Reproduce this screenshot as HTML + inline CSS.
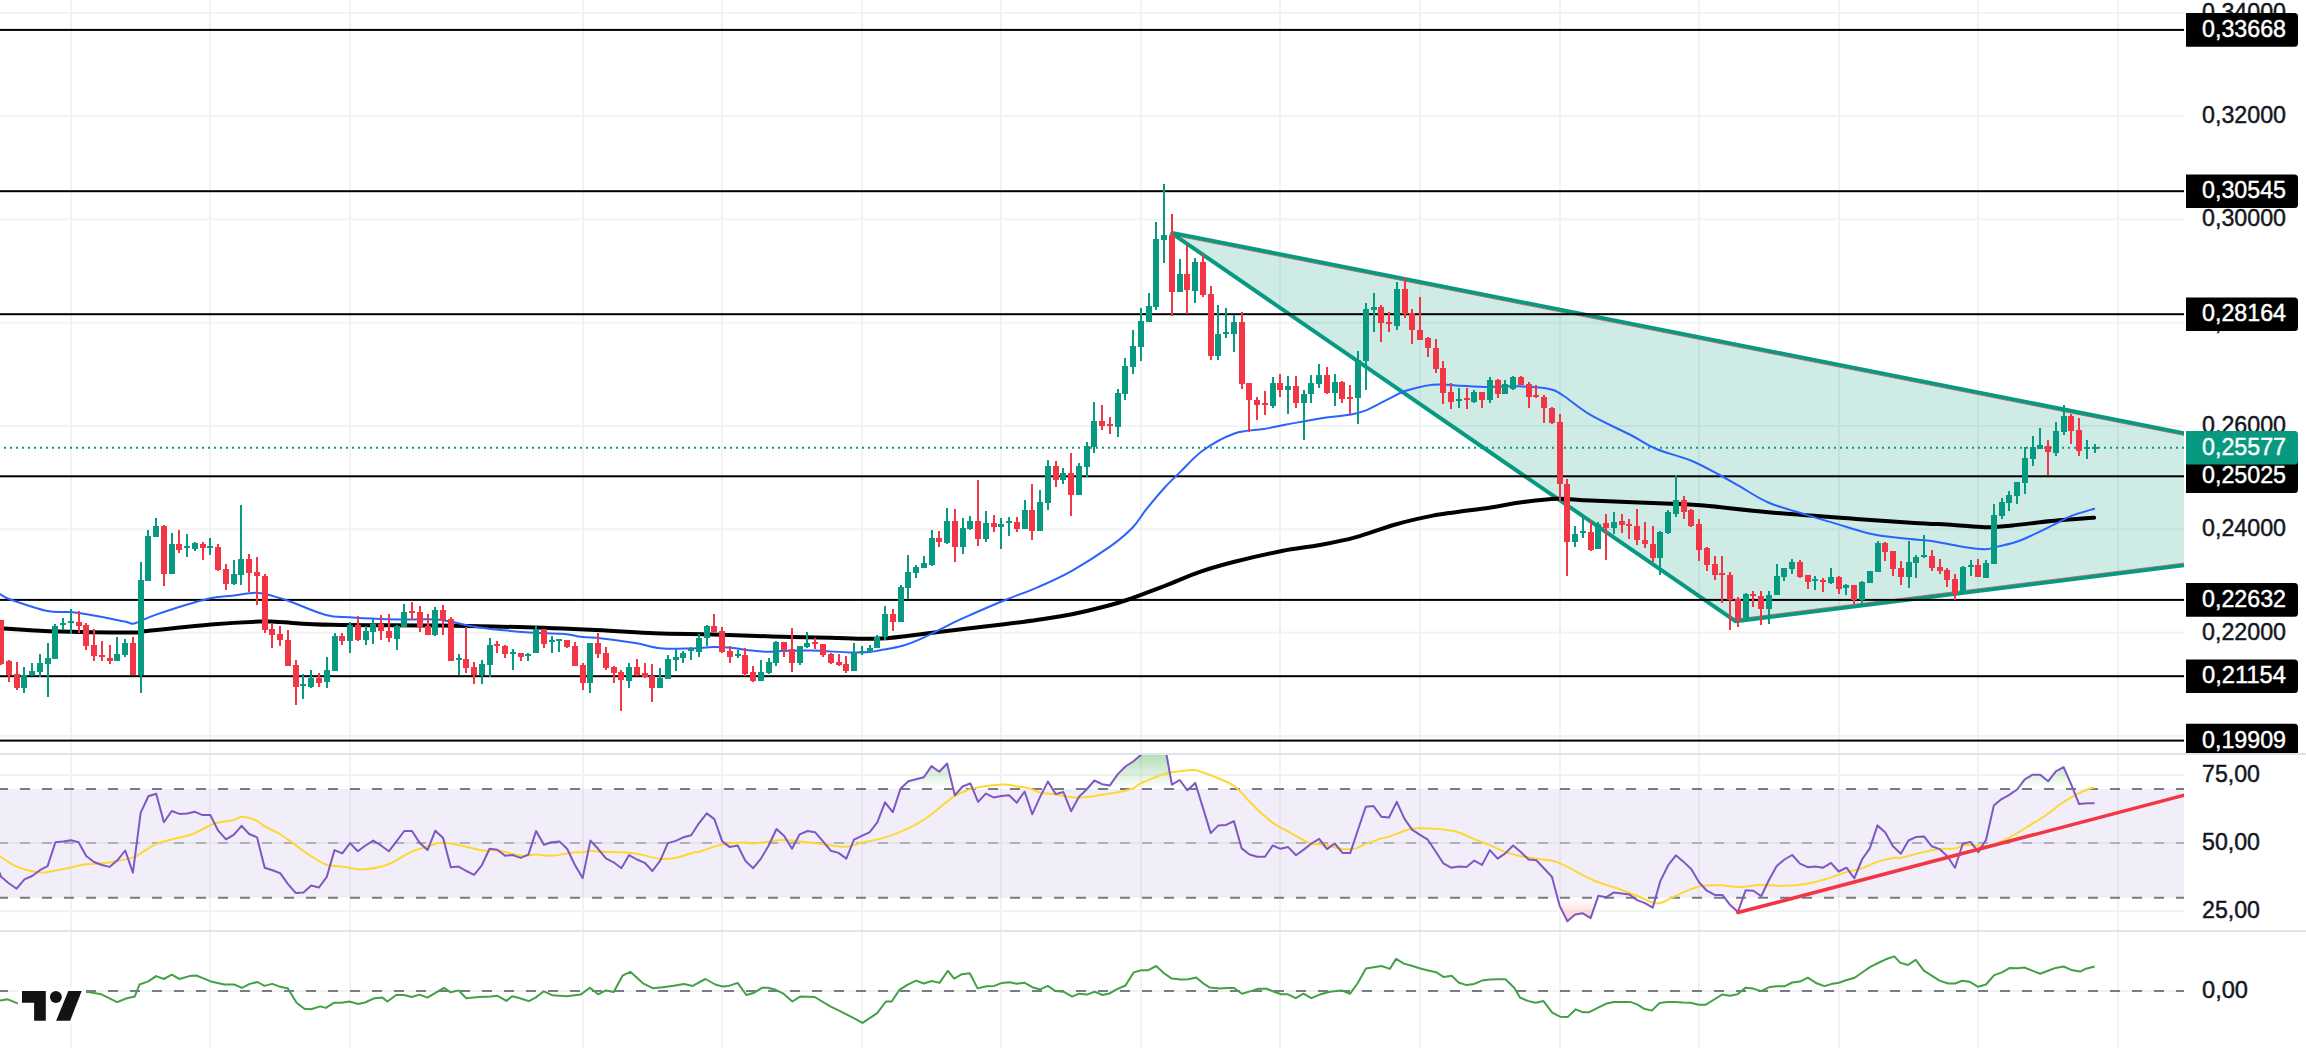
<!DOCTYPE html><html><head><meta charset="utf-8"><style>html,body{margin:0;padding:0;background:#fff;width:2306px;height:1063px;overflow:hidden}svg{display:block}text{font-family:"Liberation Sans",sans-serif}.ax{will-change:transform}</style></head><body>
<svg width="2306" height="1063" viewBox="0 0 2306 1063">
<defs>
<clipPath id="cp1"><rect x="0" y="0" width="2184" height="753"/></clipPath>
<clipPath id="cpax"><rect x="2184" y="0" width="122" height="753"/></clipPath>
<clipPath id="cp2"><rect x="0" y="755" width="2184" height="175"/></clipPath>
<clipPath id="cp3"><rect x="0" y="932" width="2184" height="116"/></clipPath>
<clipPath id="cpob"><rect x="0" y="755" width="2184" height="33.9"/></clipPath>
<clipPath id="cpos"><rect x="0" y="897.7" width="2184" height="32.3"/></clipPath>
<linearGradient id="gob" gradientUnits="userSpaceOnUse" x1="0" y1="707" x2="0" y2="788.9"><stop offset="0" stop-color="#4caf50" stop-opacity="1"/><stop offset="1" stop-color="#4caf50" stop-opacity="0"/></linearGradient>
<linearGradient id="gos" gradientUnits="userSpaceOnUse" x1="0" y1="897.7" x2="0" y2="979.6"><stop offset="0" stop-color="#ff5252" stop-opacity="0"/><stop offset="1" stop-color="#ff5252" stop-opacity="1"/></linearGradient>
</defs>
<rect x="70" y="0" width="2" height="753" fill="#f1f3f2"/>
<rect x="70" y="755" width="2" height="175" fill="#f1f3f2"/>
<rect x="70" y="932" width="2" height="116" fill="#f1f3f2"/>
<rect x="209" y="0" width="2" height="753" fill="#f1f3f2"/>
<rect x="209" y="755" width="2" height="175" fill="#f1f3f2"/>
<rect x="209" y="932" width="2" height="116" fill="#f1f3f2"/>
<rect x="349" y="0" width="2" height="753" fill="#f1f3f2"/>
<rect x="349" y="755" width="2" height="175" fill="#f1f3f2"/>
<rect x="349" y="932" width="2" height="116" fill="#f1f3f2"/>
<rect x="582" y="0" width="2" height="753" fill="#f1f3f2"/>
<rect x="582" y="755" width="2" height="175" fill="#f1f3f2"/>
<rect x="582" y="932" width="2" height="116" fill="#f1f3f2"/>
<rect x="721" y="0" width="2" height="753" fill="#f1f3f2"/>
<rect x="721" y="755" width="2" height="175" fill="#f1f3f2"/>
<rect x="721" y="932" width="2" height="116" fill="#f1f3f2"/>
<rect x="861" y="0" width="2" height="753" fill="#f1f3f2"/>
<rect x="861" y="755" width="2" height="175" fill="#f1f3f2"/>
<rect x="861" y="932" width="2" height="116" fill="#f1f3f2"/>
<rect x="1000" y="0" width="2" height="753" fill="#f1f3f2"/>
<rect x="1000" y="755" width="2" height="175" fill="#f1f3f2"/>
<rect x="1000" y="932" width="2" height="116" fill="#f1f3f2"/>
<rect x="1140" y="0" width="2" height="753" fill="#f1f3f2"/>
<rect x="1140" y="755" width="2" height="175" fill="#f1f3f2"/>
<rect x="1140" y="932" width="2" height="116" fill="#f1f3f2"/>
<rect x="1279" y="0" width="2" height="753" fill="#f1f3f2"/>
<rect x="1279" y="755" width="2" height="175" fill="#f1f3f2"/>
<rect x="1279" y="932" width="2" height="116" fill="#f1f3f2"/>
<rect x="1419" y="0" width="2" height="753" fill="#f1f3f2"/>
<rect x="1419" y="755" width="2" height="175" fill="#f1f3f2"/>
<rect x="1419" y="932" width="2" height="116" fill="#f1f3f2"/>
<rect x="1559" y="0" width="2" height="753" fill="#f1f3f2"/>
<rect x="1559" y="755" width="2" height="175" fill="#f1f3f2"/>
<rect x="1559" y="932" width="2" height="116" fill="#f1f3f2"/>
<rect x="1698" y="0" width="2" height="753" fill="#f1f3f2"/>
<rect x="1698" y="755" width="2" height="175" fill="#f1f3f2"/>
<rect x="1698" y="932" width="2" height="116" fill="#f1f3f2"/>
<rect x="1838" y="0" width="2" height="753" fill="#f1f3f2"/>
<rect x="1838" y="755" width="2" height="175" fill="#f1f3f2"/>
<rect x="1838" y="932" width="2" height="116" fill="#f1f3f2"/>
<rect x="1977" y="0" width="2" height="753" fill="#f1f3f2"/>
<rect x="1977" y="755" width="2" height="175" fill="#f1f3f2"/>
<rect x="1977" y="932" width="2" height="116" fill="#f1f3f2"/>
<rect x="2117" y="0" width="2" height="753" fill="#f1f3f2"/>
<rect x="2117" y="755" width="2" height="175" fill="#f1f3f2"/>
<rect x="2117" y="932" width="2" height="116" fill="#f1f3f2"/>
<rect x="0" y="11.8" width="2184" height="2" fill="#f1f3f2"/>
<rect x="0" y="115.1" width="2184" height="2" fill="#f1f3f2"/>
<rect x="0" y="218.4" width="2184" height="2" fill="#f1f3f2"/>
<rect x="0" y="321.7" width="2184" height="2" fill="#f1f3f2"/>
<rect x="0" y="425.0" width="2184" height="2" fill="#f1f3f2"/>
<rect x="0" y="528.3" width="2184" height="2" fill="#f1f3f2"/>
<rect x="0" y="631.6" width="2184" height="2" fill="#f1f3f2"/>
<rect x="0" y="734.9" width="2184" height="2" fill="#f1f3f2"/>
<rect x="0" y="774.0" width="2184" height="2" fill="#f1f3f2"/>
<rect x="0" y="841.9" width="2184" height="2" fill="#f1f3f2"/>
<rect x="0" y="910.2" width="2184" height="2" fill="#f1f3f2"/>
<rect x="0" y="989.9" width="2184" height="2" fill="#f1f3f2"/>
<rect x="0" y="753" width="2306" height="2" fill="#e0e3eb"/>
<rect x="0" y="930" width="2306" height="2" fill="#e0e3eb"/>
<g clip-path="url(#cp1)">
<polygon points="1170.8,232.6 2224.0,441.1 2224.0,560.3 1735.8,621.3" fill="#089981" fill-opacity="0.2"/>
<line x1="1178.8" y1="236.4" x2="2224.0" y2="443.3" stroke="#f23645" stroke-width="1" stroke-opacity="0.75"/>
<line x1="1739.8" y1="618.6" x2="2224.0" y2="558.1" stroke="#f23645" stroke-width="1" stroke-opacity="0.75"/>
<path d="M2224.0 441.1L1170.8 232.6L1735.8 621.3L2224.0 560.3" stroke="#089981" stroke-width="4.0" stroke-linejoin="bevel" fill="none"/>
<rect x="0" y="28.9" width="2184" height="2" fill="#000"/>
<rect x="0" y="190.2" width="2184" height="2" fill="#000"/>
<rect x="0" y="313.2" width="2184" height="2" fill="#000"/>
<rect x="0" y="475.3" width="2184" height="2" fill="#000"/>
<rect x="0" y="598.9" width="2184" height="2" fill="#000"/>
<rect x="0" y="675.2" width="2184" height="2" fill="#000"/>
<rect x="0" y="739.6" width="2184" height="2" fill="#000"/>
<line x1="0" y1="447.8" x2="2184" y2="447.8" stroke="#089981" stroke-width="2" stroke-dasharray="2 4" stroke-dashoffset="2"/>
<path d="M0.0 628.3C8.1 628.8 26.7 630.5 48.8 631.2C70.9 631.9 116.8 632.6 132.7 632.6C148.6 632.6 131.4 632.6 144.4 631.2C157.4 629.8 191.6 626.0 210.8 624.4C230.0 622.8 248.2 621.9 259.6 621.5C271.0 621.1 267.1 621.6 279.1 622.1C291.1 622.6 305.0 624.2 331.8 624.8C358.6 625.4 408.9 625.2 440.0 625.6C471.1 626.0 492.1 626.4 518.1 627.1C544.1 627.8 573.3 629.0 596.1 630.0C618.9 631.0 635.2 632.5 654.7 633.3C674.2 634.0 693.7 634.0 713.2 634.5C732.7 635.0 752.3 635.9 771.8 636.4C791.3 636.9 812.3 637.4 830.3 637.8C848.3 638.2 862.3 639.5 880.0 638.6C897.7 637.7 915.7 634.6 936.4 632.2C957.1 629.8 987.2 626.4 1004.2 624.3C1021.2 622.2 1026.8 621.5 1038.1 619.8C1049.4 618.1 1060.6 616.5 1071.9 614.2C1083.2 612.0 1096.4 608.8 1105.8 606.3C1115.2 603.8 1118.6 602.9 1128.4 599.5C1138.2 596.1 1152.5 590.6 1164.5 586.0C1176.5 581.4 1188.9 575.7 1200.6 571.7C1212.3 567.7 1221.0 565.2 1234.5 561.8C1248.0 558.3 1267.7 553.8 1281.9 551.0C1296.2 548.2 1307.6 547.3 1320.0 545.0C1332.4 542.7 1343.7 540.5 1356.1 537.1C1368.5 533.7 1381.7 528.3 1394.5 524.7C1407.3 521.1 1417.1 518.4 1432.9 515.6C1448.7 512.8 1474.2 509.9 1489.3 507.7C1504.3 505.4 1511.9 503.6 1523.2 502.1C1534.5 500.6 1545.8 499.0 1557.1 498.7C1568.4 498.4 1574.0 499.8 1590.9 500.5C1607.8 501.2 1639.9 502.4 1658.7 503.2C1677.5 504.0 1685.5 504.0 1703.8 505.5C1722.1 507.0 1742.9 510.0 1768.3 512.2C1793.7 514.5 1831.7 517.2 1856.1 519.0C1880.5 520.8 1898.4 521.9 1914.7 522.9C1931.0 523.9 1942.0 524.2 1953.7 524.9C1965.4 525.6 1975.1 527.1 1984.9 527.2C1994.7 527.3 2001.2 526.5 2012.3 525.5C2023.4 524.5 2037.7 522.3 2051.3 521.0C2065.0 519.7 2087.0 518.2 2094.2 517.7" fill="none" stroke="#000" stroke-width="4" stroke-linejoin="round" stroke-linecap="round"/>
<path d="M0.0 594.2C1.9 595.2 3.7 597.2 11.7 600.0C19.7 602.8 38.0 609.1 47.8 611.1C57.6 613.1 62.6 611.4 70.3 612.1C78.0 612.9 84.6 614.0 93.7 615.6C102.8 617.2 118.1 620.2 124.9 621.5C131.7 622.8 129.1 624.5 134.3 623.4C139.5 622.2 144.0 618.7 156.1 614.6C168.2 610.5 194.2 602.1 206.9 599.0C219.6 595.9 224.1 596.7 232.2 595.7C240.3 594.7 248.9 592.7 255.7 592.8C262.5 592.9 267.7 594.7 273.2 596.1C278.7 597.5 280.0 597.9 288.8 601.0C297.6 604.1 315.8 612.3 325.9 615.0C336.0 617.7 340.2 616.6 349.3 617.2C358.4 617.9 370.5 618.5 380.6 618.9C390.7 619.3 399.9 619.4 409.8 619.5C419.7 619.6 428.5 618.4 440.0 619.7C451.5 621.0 464.0 625.4 479.0 627.5C494.0 629.6 515.5 631.4 529.8 632.5C544.1 633.6 556.4 633.2 564.9 633.9C573.4 634.6 575.3 636.1 580.5 636.8C585.7 637.4 587.0 636.8 596.1 637.8C605.2 638.8 624.5 641.4 635.2 643.1C645.9 644.8 651.4 647.3 660.5 648.2C669.6 649.1 681.0 648.7 689.8 648.5C698.6 648.3 706.7 647.1 713.2 647.0C719.7 646.9 720.7 646.9 728.8 647.6C736.9 648.4 753.2 650.9 762.0 651.5C770.8 652.1 773.4 651.3 781.5 651.1C789.6 650.9 799.4 650.3 810.8 650.5C822.2 650.7 840.0 652.2 849.8 652.5C859.5 652.8 864.3 652.5 869.3 652.1C874.3 651.7 874.5 651.3 880.0 650.3C885.5 649.2 895.1 648.0 902.6 645.8C910.1 643.5 916.6 640.8 925.2 636.8C933.9 632.8 946.2 626.1 954.5 622.1C962.8 618.1 966.1 616.8 974.8 613.0C983.4 609.2 995.9 603.8 1006.4 599.5C1016.9 595.2 1027.2 591.9 1038.1 587.1C1049.0 582.3 1059.9 577.6 1071.9 570.8C1083.9 564.0 1100.1 553.7 1110.3 546.4C1120.5 539.1 1126.9 533.4 1132.9 527.2C1138.9 521.0 1141.1 515.8 1146.4 509.2C1151.7 502.6 1158.8 493.9 1164.5 487.7C1170.2 481.5 1173.9 478.1 1180.3 471.9C1186.7 465.7 1193.9 456.9 1202.9 450.5C1211.9 444.1 1224.3 437.1 1234.5 433.5C1244.7 429.9 1255.1 430.5 1263.8 429.0C1272.5 427.5 1277.0 426.2 1286.4 424.5C1295.8 422.8 1309.5 420.1 1320.0 418.5C1330.5 416.9 1341.9 416.0 1349.4 414.7C1356.9 413.4 1358.8 413.2 1365.2 410.6C1371.6 408.1 1380.9 402.7 1387.7 399.4C1394.5 396.1 1398.3 393.2 1405.8 390.8C1413.3 388.4 1424.6 385.6 1432.9 384.7C1441.2 383.8 1446.1 385.0 1455.5 385.4C1464.9 385.8 1478.8 386.8 1489.3 386.9C1499.8 387.0 1508.5 385.9 1518.7 386.3C1528.9 386.7 1542.8 387.6 1550.3 389.2C1557.8 390.8 1557.0 391.7 1563.8 396.0C1570.6 400.3 1579.6 408.6 1590.9 415.2C1602.2 421.8 1620.7 429.9 1631.6 435.5C1642.5 441.1 1646.6 444.9 1656.4 449.0C1666.2 453.1 1679.8 456.0 1690.3 460.3C1700.8 464.6 1711.5 470.7 1719.6 475.0C1727.7 479.3 1730.9 481.3 1739.0 485.9C1747.1 490.5 1756.9 497.6 1768.3 502.5C1779.7 507.4 1795.9 511.5 1807.3 515.1C1818.7 518.7 1825.9 520.7 1836.6 523.9C1847.3 527.1 1860.3 531.6 1871.7 534.1C1883.1 536.6 1894.5 537.4 1904.9 538.6C1915.3 539.8 1924.4 540.1 1934.2 541.5C1944.0 542.9 1955.0 545.7 1963.5 547.0C1972.0 548.3 1979.1 549.4 1984.9 549.3C1990.8 549.2 1992.7 547.9 1998.6 546.4C2004.5 544.9 2011.3 543.9 2020.1 540.5C2028.9 537.1 2042.9 530.0 2051.3 525.9C2059.8 521.8 2063.7 519.0 2070.8 516.1C2078.0 513.2 2090.3 509.9 2094.2 508.7" fill="none" stroke="#2962ff" stroke-width="2" stroke-linejoin="round" stroke-linecap="round"/>
<path d="M23 667h2v26h-2zM31 663h2v13h-2zM39 654h2v23h-2zM47 643h2v54h-2zM54 624h2v35h-2zM62 618h2v12h-2zM70 609h2v25h-2zM116 637h2v24h-2zM124 639h2v18h-2zM140 562h2v131h-2zM147 530h2v51h-2zM155 518h2v19h-2zM171 533h2v41h-2zM186 534h2v23h-2zM194 542h2v9h-2zM209 538h2v17h-2zM233 560h2v25h-2zM240 505h2v80h-2zM302 674h2v25h-2zM310 670h2v18h-2zM326 657h2v31h-2zM334 633h2v38h-2zM349 622h2v31h-2zM365 626h2v19h-2zM372 619h2v25h-2zM396 625h2v25h-2zM403 604h2v23h-2zM434 607h2v29h-2zM458 654h2v21h-2zM481 660h2v24h-2zM489 638h2v39h-2zM512 649h2v21h-2zM527 653h2v8h-2zM535 626h2v27h-2zM551 636h2v17h-2zM558 639h2v13h-2zM589 643h2v50h-2zM628 663h2v25h-2zM659 668h2v20h-2zM667 655h2v24h-2zM675 649h2v22h-2zM682 651h2v12h-2zM690 647h2v13h-2zM698 634h2v23h-2zM706 625h2v21h-2zM737 650h2v8h-2zM760 660h2v21h-2zM768 658h2v16h-2zM775 641h2v25h-2zM799 646h2v19h-2zM806 632h2v16h-2zM853 643h2v28h-2zM861 646h2v9h-2zM869 645h2v7h-2zM876 635h2v13h-2zM884 606h2v34h-2zM900 585h2v37h-2zM907 555h2v44h-2zM915 565h2v13h-2zM923 556h2v12h-2zM931 530h2v36h-2zM946 508h2v36h-2zM962 518h2v36h-2zM969 516h2v14h-2zM985 511h2v31h-2zM1000 518h2v31h-2zM1008 517h2v19h-2zM1024 500h2v29h-2zM1039 490h2v41h-2zM1047 460h2v50h-2zM1062 468h2v16h-2zM1078 463h2v32h-2zM1086 442h2v35h-2zM1093 402h2v51h-2zM1117 389h2v48h-2zM1124 358h2v42h-2zM1132 330h2v44h-2zM1140 308h2v53h-2zM1148 293h2v29h-2zM1155 222h2v88h-2zM1163 184h2v79h-2zM1179 259h2v33h-2zM1194 258h2v45h-2zM1217 305h2v55h-2zM1225 308h2v30h-2zM1233 315h2v37h-2zM1272 377h2v31h-2zM1287 376h2v38h-2zM1303 390h2v50h-2zM1310 375h2v28h-2zM1318 364h2v24h-2zM1334 374h2v32h-2zM1357 351h2v73h-2zM1365 303h2v87h-2zM1373 293h2v39h-2zM1396 282h2v48h-2zM1458 388h2v20h-2zM1473 390h2v13h-2zM1489 377h2v26h-2zM1504 380h2v14h-2zM1512 376h2v14h-2zM1574 526h2v21h-2zM1582 517h2v21h-2zM1597 522h2v27h-2zM1613 512h2v22h-2zM1659 531h2v44h-2zM1667 510h2v24h-2zM1675 475h2v42h-2zM1745 593h2v25h-2zM1768 591h2v33h-2zM1776 564h2v31h-2zM1783 568h2v13h-2zM1791 559h2v15h-2zM1814 576h2v14h-2zM1830 568h2v16h-2zM1845 584h2v11h-2zM1861 581h2v23h-2zM1869 571h2v12h-2zM1877 541h2v31h-2zM1908 541h2v47h-2zM1915 555h2v23h-2zM1923 535h2v23h-2zM1962 566h2v27h-2zM1970 560h2v16h-2zM1985 560h2v18h-2zM1993 504h2v60h-2zM2001 498h2v21h-2zM2008 491h2v20h-2zM2016 482h2v22h-2zM2024 447h2v47h-2zM2032 436h2v30h-2zM2039 428h2v21h-2zM2055 422h2v34h-2zM2063 405h2v30h-2zM2086 440h2v19h-2zM2094 444h2v9h-2z M21 675h6v13h-6zM29 671h6v4h-6zM37 663h6v9h-6zM45 658h6v6h-6zM52 626h6v33h-6zM60 623h6v2h-6zM68 621h6v2h-6zM114 654h6v7h-6zM122 643h6v12h-6zM138 580h6v95h-6zM145 536h6v45h-6zM153 526h6v11h-6zM169 544h6v30h-6zM184 546h6v2h-6zM192 543h6v6h-6zM207 546h6v2h-6zM231 574h6v10h-6zM238 559h6v16h-6zM300 684h6v2h-6zM308 678h6v9h-6zM324 670h6v12h-6zM332 636h6v35h-6zM347 625h6v16h-6zM363 631h6v9h-6zM370 624h6v8h-6zM394 626h6v13h-6zM401 612h6v15h-6zM432 610h6v25h-6zM456 658h6v2h-6zM479 664h6v11h-6zM487 645h6v20h-6zM510 652h6v2h-6zM525 654h6v2h-6zM533 629h6v24h-6zM549 640h6v2h-6zM556 639h6v2h-6zM587 643h6v40h-6zM626 667h6v14h-6zM657 678h6v10h-6zM665 659h6v20h-6zM673 657h6v3h-6zM680 653h6v5h-6zM688 649h6v2h-6zM696 638h6v14h-6zM704 626h6v12h-6zM735 654h6v2h-6zM758 672h6v9h-6zM766 662h6v11h-6zM773 642h6v21h-6zM797 646h6v17h-6zM804 643h6v4h-6zM851 653h6v18h-6zM859 651h6v2h-6zM867 648h6v4h-6zM874 637h6v11h-6zM882 614h6v23h-6zM898 587h6v35h-6zM905 572h6v16h-6zM913 567h6v6h-6zM921 563h6v5h-6zM929 538h6v27h-6zM944 521h6v22h-6zM960 528h6v19h-6zM967 521h6v8h-6zM983 523h6v16h-6zM998 524h6v3h-6zM1006 521h6v2h-6zM1022 510h6v19h-6zM1037 502h6v29h-6zM1045 466h6v37h-6zM1060 473h6v7h-6zM1076 466h6v29h-6zM1084 446h6v21h-6zM1091 421h6v26h-6zM1115 393h6v34h-6zM1122 366h6v28h-6zM1130 346h6v21h-6zM1138 321h6v26h-6zM1146 306h6v16h-6zM1153 239h6v68h-6zM1161 235h6v5h-6zM1177 274h6v18h-6zM1192 262h6v29h-6zM1215 334h6v22h-6zM1223 332h6v2h-6zM1231 322h6v12h-6zM1270 383h6v23h-6zM1285 386h6v4h-6zM1301 394h6v9h-6zM1308 383h6v11h-6zM1316 375h6v9h-6zM1332 382h6v11h-6zM1355 360h6v38h-6zM1363 309h6v52h-6zM1371 307h6v3h-6zM1394 289h6v37h-6zM1456 399h6v2h-6zM1471 392h6v10h-6zM1487 380h6v20h-6zM1502 384h6v10h-6zM1510 377h6v12h-6zM1572 534h6v8h-6zM1580 531h6v2h-6zM1595 524h6v25h-6zM1611 522h6v6h-6zM1657 532h6v26h-6zM1665 512h6v21h-6zM1673 500h6v14h-6zM1743 594h6v24h-6zM1766 595h6v14h-6zM1774 576h6v19h-6zM1781 568h6v9h-6zM1789 562h6v7h-6zM1812 579h6v2h-6zM1828 577h6v6h-6zM1843 585h6v3h-6zM1859 582h6v18h-6zM1867 571h6v12h-6zM1875 543h6v29h-6zM1906 562h6v15h-6zM1913 557h6v6h-6zM1921 555h6v2h-6zM1960 567h6v26h-6zM1968 565h6v2h-6zM1983 563h6v15h-6zM1991 515h6v49h-6zM1999 502h6v14h-6zM2006 495h6v8h-6zM2014 482h6v14h-6zM2022 458h6v25h-6zM2030 447h6v12h-6zM2037 445h6v4h-6zM2053 431h6v22h-6zM2061 416h6v16h-6zM2084 447h6v2h-6zM2092 447h6v2h-6z" fill="#089981"/>
<path d="M0 620h2v45h-2zM8 660h2v22h-2zM16 662h2v28h-2zM78 611h2v22h-2zM85 623h2v27h-2zM93 629h2v32h-2zM101 641h2v20h-2zM109 645h2v19h-2zM132 637h2v38h-2zM163 525h2v61h-2zM178 530h2v23h-2zM202 542h2v18h-2zM217 544h2v27h-2zM225 564h2v26h-2zM248 554h2v38h-2zM256 557h2v48h-2zM264 574h2v59h-2zM271 624h2v24h-2zM279 626h2v20h-2zM287 630h2v36h-2zM295 660h2v45h-2zM318 673h2v14h-2zM341 633h2v12h-2zM357 616h2v25h-2zM380 615h2v25h-2zM388 614h2v28h-2zM411 602h2v18h-2zM419 606h2v26h-2zM427 614h2v21h-2zM442 605h2v30h-2zM450 617h2v44h-2zM465 627h2v46h-2zM473 662h2v22h-2zM496 641h2v12h-2zM504 645h2v13h-2zM520 653h2v8h-2zM543 629h2v19h-2zM566 640h2v8h-2zM574 642h2v24h-2zM582 663h2v27h-2zM597 633h2v25h-2zM605 647h2v23h-2zM613 666h2v17h-2zM620 670h2v41h-2zM636 659h2v17h-2zM644 663h2v15h-2zM651 664h2v38h-2zM713 614h2v18h-2zM721 627h2v26h-2zM729 646h2v17h-2zM744 648h2v28h-2zM752 666h2v16h-2zM783 642h2v15h-2zM791 628h2v44h-2zM814 638h2v11h-2zM822 644h2v13h-2zM830 653h2v11h-2zM838 654h2v12h-2zM845 656h2v17h-2zM892 609h2v22h-2zM938 531h2v16h-2zM954 509h2v53h-2zM977 480h2v66h-2zM993 515h2v17h-2zM1016 517h2v15h-2zM1031 484h2v56h-2zM1055 461h2v26h-2zM1070 453h2v63h-2zM1101 405h2v25h-2zM1109 417h2v17h-2zM1171 214h2v102h-2zM1186 245h2v69h-2zM1202 254h2v43h-2zM1210 286h2v74h-2zM1241 312h2v77h-2zM1248 383h2v49h-2zM1256 397h2v23h-2zM1264 391h2v24h-2zM1279 374h2v23h-2zM1295 376h2v32h-2zM1326 367h2v27h-2zM1341 381h2v22h-2zM1349 385h2v29h-2zM1380 305h2v37h-2zM1388 312h2v20h-2zM1404 277h2v41h-2zM1411 309h2v35h-2zM1419 297h2v43h-2zM1427 337h2v20h-2zM1435 339h2v34h-2zM1442 361h2v43h-2zM1450 383h2v26h-2zM1466 388h2v21h-2zM1481 392h2v16h-2zM1497 379h2v19h-2zM1520 376h2v9h-2zM1528 382h2v26h-2zM1535 385h2v13h-2zM1543 395h2v28h-2zM1551 407h2v17h-2zM1559 414h2v87h-2zM1566 479h2v97h-2zM1590 521h2v30h-2zM1605 514h2v46h-2zM1621 514h2v19h-2zM1628 519h2v20h-2zM1636 509h2v36h-2zM1644 522h2v26h-2zM1652 526h2v36h-2zM1683 496h2v23h-2zM1690 509h2v18h-2zM1698 519h2v42h-2zM1706 547h2v24h-2zM1714 556h2v24h-2zM1721 556h2v47h-2zM1729 572h2v58h-2zM1737 597h2v30h-2zM1752 591h2v16h-2zM1760 591h2v34h-2zM1799 560h2v18h-2zM1807 575h2v14h-2zM1822 578h2v14h-2zM1838 576h2v18h-2zM1853 585h2v19h-2zM1884 542h2v19h-2zM1892 551h2v25h-2zM1900 561h2v24h-2zM1931 550h2v21h-2zM1939 559h2v15h-2zM1946 568h2v19h-2zM1954 574h2v26h-2zM1977 559h2v18h-2zM2047 440h2v35h-2zM2070 414h2v30h-2zM2078 418h2v38h-2z M-2 620h6v44h-6zM6 661h6v14h-6zM14 674h6v14h-6zM76 622h6v4h-6zM83 625h6v21h-6zM91 645h6v11h-6zM99 655h6v2h-6zM107 658h6v3h-6zM130 643h6v32h-6zM161 526h6v48h-6zM176 544h6v6h-6zM200 544h6v4h-6zM215 547h6v23h-6zM223 569h6v15h-6zM246 559h6v14h-6zM254 572h6v4h-6zM262 576h6v54h-6zM269 629h6v6h-6zM277 634h6v6h-6zM285 640h6v26h-6zM293 665h6v22h-6zM316 678h6v5h-6zM339 636h6v5h-6zM355 625h6v15h-6zM378 624h6v7h-6zM386 631h6v7h-6zM409 611h6v2h-6zM417 612h6v15h-6zM425 626h6v9h-6zM440 610h6v10h-6zM448 619h6v42h-6zM463 659h6v9h-6zM471 667h6v8h-6zM494 644h6v2h-6zM502 646h6v8h-6zM518 653h6v4h-6zM541 629h6v15h-6zM564 640h6v7h-6zM572 646h6v20h-6zM580 665h6v18h-6zM595 643h6v11h-6zM603 653h6v15h-6zM611 667h6v6h-6zM618 672h6v8h-6zM634 667h6v8h-6zM642 673h6v4h-6zM649 676h6v12h-6zM711 626h6v6h-6zM719 631h6v21h-6zM727 651h6v6h-6zM742 655h6v19h-6zM750 672h6v9h-6zM781 642h6v8h-6zM789 649h6v14h-6zM812 642h6v2h-6zM820 644h6v11h-6zM828 654h6v9h-6zM836 662h6v3h-6zM843 664h6v7h-6zM890 614h6v8h-6zM936 538h6v4h-6zM952 521h6v26h-6zM975 521h6v18h-6zM991 523h6v4h-6zM1014 522h6v7h-6zM1029 510h6v21h-6zM1053 466h6v14h-6zM1068 473h6v22h-6zM1099 421h6v5h-6zM1107 424h6v2h-6zM1169 235h6v57h-6zM1184 274h6v16h-6zM1200 262h6v33h-6zM1208 294h6v62h-6zM1239 322h6v62h-6zM1246 383h6v17h-6zM1254 400h6v5h-6zM1262 403h6v2h-6zM1277 383h6v7h-6zM1293 386h6v17h-6zM1324 375h6v18h-6zM1339 382h6v17h-6zM1347 397h6v2h-6zM1378 307h6v16h-6zM1386 322h6v2h-6zM1402 289h6v25h-6zM1409 313h6v17h-6zM1417 330h6v10h-6zM1425 338h6v10h-6zM1433 348h6v21h-6zM1440 368h6v25h-6zM1448 392h6v10h-6zM1464 398h6v2h-6zM1479 392h6v8h-6zM1495 380h6v14h-6zM1518 377h6v8h-6zM1526 384h6v13h-6zM1533 395h6v2h-6zM1541 397h6v11h-6zM1549 408h6v15h-6zM1557 422h6v62h-6zM1564 484h6v58h-6zM1588 532h6v18h-6zM1603 523h6v5h-6zM1619 521h6v4h-6zM1626 524h6v2h-6zM1634 526h6v14h-6zM1642 540h6v4h-6zM1650 544h6v14h-6zM1681 500h6v12h-6zM1688 510h6v16h-6zM1696 524h6v26h-6zM1704 548h6v17h-6zM1712 564h6v11h-6zM1719 573h6v2h-6zM1727 575h6v25h-6zM1735 599h6v21h-6zM1750 594h6v2h-6zM1758 596h6v13h-6zM1797 562h6v15h-6zM1805 575h6v7h-6zM1820 580h6v2h-6zM1836 577h6v12h-6zM1851 585h6v15h-6zM1882 543h6v9h-6zM1890 551h6v18h-6zM1898 568h6v9h-6zM1929 556h6v12h-6zM1937 567h6v4h-6zM1944 570h6v10h-6zM1952 579h6v15h-6zM1975 565h6v12h-6zM2045 446h6v6h-6zM2068 416h6v15h-6zM2076 430h6v21h-6z" fill="#f23645"/>
</g>
<g clip-path="url(#cp2)">
<rect x="0" y="788.9" width="2184" height="108.8" fill="#7e57c2" fill-opacity="0.1"/>
<polygon points="-6.7,788.9 -6.7,856.0 1.1,876.8 8.8,883.2 16.6,888.7 24.4,879.3 32.1,876.0 39.9,870.2 47.6,866.1 55.4,842.2 63.1,841.4 70.9,840.3 78.6,842.2 86.4,856.2 94.1,862.0 101.9,865.0 109.6,866.9 117.4,860.3 125.2,850.5 132.9,872.7 140.7,812.6 148.4,796.2 156.2,793.7 163.9,822.2 171.7,811.0 179.4,813.9 187.2,813.4 194.9,811.8 202.7,815.1 210.4,815.1 218.2,830.7 226.0,839.3 233.7,834.8 241.5,825.8 249.2,834.0 257.0,837.3 264.7,867.8 272.5,870.2 280.2,873.2 288.0,884.2 295.7,892.9 303.5,892.4 311.2,885.5 319.0,887.5 326.8,876.8 334.5,850.1 342.3,853.4 350.0,843.1 357.8,851.3 365.5,845.5 373.3,840.6 381.0,845.5 388.8,851.3 396.5,841.4 404.3,831.0 412.0,831.0 419.8,843.1 427.6,850.1 435.3,830.7 443.1,838.1 450.8,867.3 458.6,866.6 466.3,871.0 474.1,874.8 481.8,865.3 489.6,848.8 497.3,849.7 505.1,855.7 512.8,855.1 520.6,857.9 528.4,854.6 536.1,831.0 543.9,844.7 551.6,842.2 559.4,841.4 567.1,848.8 574.9,865.0 582.6,878.1 590.4,840.6 598.1,848.8 605.9,858.4 613.6,862.3 621.4,868.3 629.1,855.1 636.9,859.5 644.7,862.8 652.4,871.0 660.2,860.7 667.9,843.1 675.7,840.9 683.4,837.3 691.2,835.3 698.9,823.3 706.7,813.4 714.4,819.1 722.2,841.4 729.9,847.1 737.7,845.5 745.5,861.1 753.2,868.2 761.0,858.6 768.7,845.5 776.5,829.0 784.2,835.9 792.0,848.8 799.7,834.3 807.5,831.0 815.2,832.3 823.0,841.4 830.7,850.7 838.5,852.9 846.3,858.6 854.0,839.7 861.8,835.9 869.5,832.3 877.3,822.4 885.0,802.3 892.8,812.2 900.5,788.7 908.3,781.3 916.0,779.3 923.8,777.2 931.5,766.1 939.3,771.7 947.1,763.5 954.8,795.3 962.6,786.5 970.3,783.3 978.1,801.9 985.8,793.6 993.6,797.4 1001.3,796.1 1009.1,795.3 1016.8,802.7 1024.6,791.5 1032.3,814.2 1040.1,796.9 1047.9,781.6 1055.6,794.1 1063.4,792.0 1071.1,811.2 1078.9,796.9 1086.6,789.5 1094.4,780.5 1102.1,784.2 1109.9,785.4 1117.6,774.4 1125.4,766.5 1133.1,761.5 1140.9,754.9 1148.7,743.4 1156.4,740.1 1164.2,741.8 1171.9,784.6 1179.7,780.0 1187.4,790.3 1195.2,782.9 1202.9,807.6 1210.7,833.1 1218.4,825.4 1226.2,824.9 1233.9,821.1 1241.7,848.4 1249.5,854.5 1257.2,856.7 1265.0,856.7 1272.7,845.5 1280.5,848.8 1288.2,847.1 1296.0,855.3 1303.7,849.6 1311.5,843.5 1319.2,838.9 1327.0,849.1 1334.7,843.5 1342.5,852.9 1350.3,852.9 1358.0,829.8 1365.8,806.8 1373.5,806.0 1381.3,816.7 1389.0,817.5 1396.8,801.9 1404.5,818.8 1412.3,829.8 1420.0,834.8 1427.8,839.7 1435.5,851.2 1443.3,863.3 1451.1,867.7 1458.8,866.5 1466.6,866.9 1474.3,860.6 1482.1,864.9 1489.8,850.1 1497.6,858.6 1505.3,853.4 1513.1,845.5 1520.8,852.1 1528.6,859.5 1536.3,860.3 1544.1,868.5 1551.9,876.7 1559.6,905.6 1567.4,921.2 1575.1,914.6 1582.9,913.3 1590.6,918.2 1598.4,895.7 1606.1,897.3 1613.9,892.4 1621.6,893.5 1629.4,894.5 1637.1,900.1 1644.9,903.1 1652.7,907.7 1660.4,880.9 1668.2,865.2 1675.9,855.3 1683.7,861.9 1691.4,869.3 1699.2,882.5 1706.9,890.7 1714.7,894.9 1722.4,894.9 1730.2,905.1 1737.9,912.1 1745.7,890.2 1753.5,890.7 1761.2,896.2 1769.0,880.0 1776.7,866.0 1784.5,859.5 1792.2,855.0 1800.0,863.6 1807.7,867.2 1815.5,866.5 1823.2,867.7 1831.0,862.8 1838.7,871.5 1846.5,867.7 1854.3,878.4 1862.0,859.5 1869.8,848.4 1877.5,825.4 1885.3,832.6 1893.0,846.3 1900.8,853.7 1908.5,840.5 1916.3,836.9 1924.0,836.4 1931.8,846.3 1939.5,849.1 1947.3,856.2 1955.0,867.7 1962.8,843.8 1970.6,841.9 1978.3,852.1 1986.1,839.7 1993.8,805.6 2001.6,799.1 2009.3,794.8 2017.1,789.5 2024.8,779.3 2032.6,774.7 2040.3,774.7 2048.1,781.3 2055.8,771.4 2063.6,767.1 2071.4,784.8 2079.1,804.1 2086.9,803.2 2094.6,803.2 2094.6,788.9" fill="url(#gob)" clip-path="url(#cpob)"/>
<polygon points="-6.7,897.7 -6.7,856.0 1.1,876.8 8.8,883.2 16.6,888.7 24.4,879.3 32.1,876.0 39.9,870.2 47.6,866.1 55.4,842.2 63.1,841.4 70.9,840.3 78.6,842.2 86.4,856.2 94.1,862.0 101.9,865.0 109.6,866.9 117.4,860.3 125.2,850.5 132.9,872.7 140.7,812.6 148.4,796.2 156.2,793.7 163.9,822.2 171.7,811.0 179.4,813.9 187.2,813.4 194.9,811.8 202.7,815.1 210.4,815.1 218.2,830.7 226.0,839.3 233.7,834.8 241.5,825.8 249.2,834.0 257.0,837.3 264.7,867.8 272.5,870.2 280.2,873.2 288.0,884.2 295.7,892.9 303.5,892.4 311.2,885.5 319.0,887.5 326.8,876.8 334.5,850.1 342.3,853.4 350.0,843.1 357.8,851.3 365.5,845.5 373.3,840.6 381.0,845.5 388.8,851.3 396.5,841.4 404.3,831.0 412.0,831.0 419.8,843.1 427.6,850.1 435.3,830.7 443.1,838.1 450.8,867.3 458.6,866.6 466.3,871.0 474.1,874.8 481.8,865.3 489.6,848.8 497.3,849.7 505.1,855.7 512.8,855.1 520.6,857.9 528.4,854.6 536.1,831.0 543.9,844.7 551.6,842.2 559.4,841.4 567.1,848.8 574.9,865.0 582.6,878.1 590.4,840.6 598.1,848.8 605.9,858.4 613.6,862.3 621.4,868.3 629.1,855.1 636.9,859.5 644.7,862.8 652.4,871.0 660.2,860.7 667.9,843.1 675.7,840.9 683.4,837.3 691.2,835.3 698.9,823.3 706.7,813.4 714.4,819.1 722.2,841.4 729.9,847.1 737.7,845.5 745.5,861.1 753.2,868.2 761.0,858.6 768.7,845.5 776.5,829.0 784.2,835.9 792.0,848.8 799.7,834.3 807.5,831.0 815.2,832.3 823.0,841.4 830.7,850.7 838.5,852.9 846.3,858.6 854.0,839.7 861.8,835.9 869.5,832.3 877.3,822.4 885.0,802.3 892.8,812.2 900.5,788.7 908.3,781.3 916.0,779.3 923.8,777.2 931.5,766.1 939.3,771.7 947.1,763.5 954.8,795.3 962.6,786.5 970.3,783.3 978.1,801.9 985.8,793.6 993.6,797.4 1001.3,796.1 1009.1,795.3 1016.8,802.7 1024.6,791.5 1032.3,814.2 1040.1,796.9 1047.9,781.6 1055.6,794.1 1063.4,792.0 1071.1,811.2 1078.9,796.9 1086.6,789.5 1094.4,780.5 1102.1,784.2 1109.9,785.4 1117.6,774.4 1125.4,766.5 1133.1,761.5 1140.9,754.9 1148.7,743.4 1156.4,740.1 1164.2,741.8 1171.9,784.6 1179.7,780.0 1187.4,790.3 1195.2,782.9 1202.9,807.6 1210.7,833.1 1218.4,825.4 1226.2,824.9 1233.9,821.1 1241.7,848.4 1249.5,854.5 1257.2,856.7 1265.0,856.7 1272.7,845.5 1280.5,848.8 1288.2,847.1 1296.0,855.3 1303.7,849.6 1311.5,843.5 1319.2,838.9 1327.0,849.1 1334.7,843.5 1342.5,852.9 1350.3,852.9 1358.0,829.8 1365.8,806.8 1373.5,806.0 1381.3,816.7 1389.0,817.5 1396.8,801.9 1404.5,818.8 1412.3,829.8 1420.0,834.8 1427.8,839.7 1435.5,851.2 1443.3,863.3 1451.1,867.7 1458.8,866.5 1466.6,866.9 1474.3,860.6 1482.1,864.9 1489.8,850.1 1497.6,858.6 1505.3,853.4 1513.1,845.5 1520.8,852.1 1528.6,859.5 1536.3,860.3 1544.1,868.5 1551.9,876.7 1559.6,905.6 1567.4,921.2 1575.1,914.6 1582.9,913.3 1590.6,918.2 1598.4,895.7 1606.1,897.3 1613.9,892.4 1621.6,893.5 1629.4,894.5 1637.1,900.1 1644.9,903.1 1652.7,907.7 1660.4,880.9 1668.2,865.2 1675.9,855.3 1683.7,861.9 1691.4,869.3 1699.2,882.5 1706.9,890.7 1714.7,894.9 1722.4,894.9 1730.2,905.1 1737.9,912.1 1745.7,890.2 1753.5,890.7 1761.2,896.2 1769.0,880.0 1776.7,866.0 1784.5,859.5 1792.2,855.0 1800.0,863.6 1807.7,867.2 1815.5,866.5 1823.2,867.7 1831.0,862.8 1838.7,871.5 1846.5,867.7 1854.3,878.4 1862.0,859.5 1869.8,848.4 1877.5,825.4 1885.3,832.6 1893.0,846.3 1900.8,853.7 1908.5,840.5 1916.3,836.9 1924.0,836.4 1931.8,846.3 1939.5,849.1 1947.3,856.2 1955.0,867.7 1962.8,843.8 1970.6,841.9 1978.3,852.1 1986.1,839.7 1993.8,805.6 2001.6,799.1 2009.3,794.8 2017.1,789.5 2024.8,779.3 2032.6,774.7 2040.3,774.7 2048.1,781.3 2055.8,771.4 2063.6,767.1 2071.4,784.8 2079.1,804.1 2086.9,803.2 2094.6,803.2 2094.6,897.7" fill="url(#gos)" clip-path="url(#cpos)"/>
<line x1="0" y1="788.9" x2="2184" y2="788.9" stroke="#787b86" stroke-width="2" stroke-dasharray="10 12" stroke-dashoffset="2"/>
<line x1="0" y1="842.9" x2="2184" y2="842.9" stroke="#787b86" stroke-opacity="0.5" stroke-width="2" stroke-dasharray="10 12" stroke-dashoffset="2"/>
<line x1="0" y1="897.7" x2="2184" y2="897.7" stroke="#787b86" stroke-width="2" stroke-dasharray="10 12" stroke-dashoffset="2"/>
<path d="M0.0 856.2C2.6 857.9 10.1 863.6 15.6 866.1C21.1 868.6 27.8 870.5 32.9 871.5C38.0 872.5 40.6 872.7 46.1 872.2C51.6 871.7 59.5 869.9 65.8 868.6C72.1 867.3 77.1 865.5 84.0 864.5C90.9 863.5 99.0 863.9 107.0 862.8C115.0 861.7 126.2 859.4 131.7 857.9C137.2 856.4 135.8 856.1 139.9 853.8C144.0 851.5 150.9 846.3 156.4 843.9C161.9 841.5 166.8 840.9 172.8 839.3C178.8 837.6 186.3 836.4 192.6 834.0C198.9 831.6 206.3 826.9 210.7 825.0C215.1 823.1 215.1 823.3 218.9 822.5C222.7 821.7 229.8 821.0 233.7 820.0C237.5 819.0 238.2 816.6 242.0 816.7C245.8 816.8 253.0 819.1 256.8 820.8C260.6 822.4 261.2 824.4 265.0 826.6C268.8 828.8 275.1 831.2 279.8 834.0C284.5 836.8 288.6 840.0 293.0 843.1C297.4 846.2 300.7 849.3 306.2 852.9C311.7 856.5 319.3 862.2 325.9 864.5C332.5 866.8 339.6 866.1 345.7 866.9C351.8 867.7 355.4 869.9 362.4 869.5C369.4 869.1 379.6 867.4 387.7 864.5C395.8 861.6 404.5 855.0 410.8 852.1C417.1 849.2 420.9 848.7 425.6 847.2C430.3 845.7 435.2 843.8 438.8 843.1C442.4 842.4 442.6 842.6 447.0 843.1C451.4 843.6 459.1 845.2 465.1 846.4C471.1 847.6 477.7 849.8 483.2 850.5C488.7 851.2 491.7 849.6 498.0 850.5C504.3 851.4 514.8 855.0 521.1 855.7C527.4 856.4 530.7 854.6 535.9 854.6C541.1 854.6 546.0 856.1 552.3 855.7C558.6 855.3 568.8 853.0 573.7 852.4C578.7 851.8 579.2 852.7 582.0 852.4C584.8 852.1 586.6 850.9 590.2 850.8C593.8 850.7 596.0 851.4 603.4 851.8C610.8 852.2 625.4 852.2 634.7 853.4C644.0 854.5 652.4 858.0 659.3 858.7C666.1 859.5 670.1 858.9 675.8 857.9C681.5 856.9 689.5 853.7 693.5 852.6C697.5 851.6 696.6 852.6 699.8 851.7C703.0 850.8 708.5 848.4 712.9 847.1C717.3 845.8 720.6 844.6 726.1 843.8C731.6 843.0 740.9 842.5 745.8 842.5C750.7 842.5 750.2 843.9 755.7 843.5C761.2 843.1 772.2 840.6 778.8 840.2C785.4 839.8 788.4 840.3 795.2 840.9C802.1 841.5 811.7 842.8 819.9 843.8C828.1 844.8 837.7 846.9 844.6 846.8C851.5 846.7 853.4 844.9 861.1 843.0C868.8 841.1 880.3 839.4 890.7 835.6C901.1 831.8 913.2 826.5 923.6 820.0C934.0 813.5 945.6 802.0 953.3 796.9C961.0 791.8 964.2 791.3 969.7 789.5C975.2 787.7 980.7 786.7 986.2 785.9C991.7 785.1 998.8 784.8 1002.6 784.6C1006.4 784.4 1006.7 784.6 1009.2 784.9C1011.7 785.2 1014.2 785.9 1017.4 786.5C1020.6 787.1 1024.8 787.2 1028.6 788.2C1032.4 789.2 1036.0 791.5 1040.0 792.5C1044.0 793.5 1046.6 793.2 1052.9 794.1C1059.2 795.0 1069.4 797.6 1077.6 797.7C1085.8 797.8 1095.4 795.8 1102.3 794.8C1109.2 793.8 1113.6 793.1 1118.8 792.0C1124.0 790.9 1130.0 789.6 1133.6 788.2C1137.2 786.8 1135.0 786.1 1140.2 783.7C1145.4 781.3 1158.1 776.0 1164.9 773.9C1171.8 771.8 1176.4 771.7 1181.3 771.1C1186.2 770.5 1190.7 769.8 1194.5 770.1C1198.3 770.4 1200.6 771.7 1204.4 773.0C1208.2 774.3 1212.3 775.7 1217.5 778.0C1222.7 780.3 1230.1 782.9 1235.6 787.0C1241.1 791.1 1244.5 796.9 1250.5 802.7C1256.5 808.6 1265.9 817.4 1271.9 822.1C1277.9 826.8 1280.4 827.2 1286.7 830.7C1293.0 834.2 1303.4 840.7 1309.7 843.0C1316.0 845.3 1319.0 843.7 1324.5 844.7C1330.0 845.7 1337.4 848.5 1342.6 849.1C1347.8 849.7 1351.9 849.3 1355.8 848.4C1359.7 847.5 1362.8 845.0 1365.7 843.8C1368.6 842.6 1370.8 842.2 1373.2 841.4C1375.6 840.6 1377.3 839.7 1380.0 838.9C1382.7 838.1 1385.0 837.9 1389.6 836.4C1394.2 834.9 1402.8 831.2 1407.7 829.8C1412.7 828.4 1414.9 828.4 1419.3 828.2C1423.7 828.0 1428.1 828.2 1434.1 828.7C1440.1 829.2 1449.2 829.9 1455.5 831.5C1461.8 833.1 1466.4 835.9 1471.9 838.1C1477.4 840.3 1482.4 842.2 1488.4 844.7C1494.4 847.2 1502.1 850.9 1508.1 852.9C1514.1 854.9 1517.5 855.7 1524.6 857.0C1531.7 858.3 1544.9 859.5 1550.9 860.6C1556.9 861.7 1555.8 861.4 1560.8 863.6C1565.8 865.8 1574.6 870.8 1580.6 873.8C1586.6 876.8 1591.0 879.3 1597.0 881.7C1603.0 884.1 1610.2 886.0 1616.8 888.3C1623.4 890.6 1630.5 893.3 1636.5 895.7C1642.5 898.1 1648.9 901.6 1653.0 902.8C1657.1 904.0 1657.9 903.7 1661.2 902.8C1664.5 901.9 1668.1 899.4 1672.8 897.3C1677.5 895.1 1684.3 891.8 1689.2 889.9C1694.1 888.0 1697.3 886.6 1702.4 885.8C1707.5 885.0 1714.0 885.1 1719.9 885.3C1725.8 885.5 1730.8 887.0 1737.9 887.0C1745.0 887.0 1754.6 885.2 1762.6 885.0C1770.5 884.8 1778.2 886.0 1785.6 885.8C1793.0 885.6 1800.4 884.8 1807.0 883.7C1813.6 882.6 1818.8 881.1 1825.1 879.2C1831.4 877.4 1838.9 874.4 1844.9 872.6C1850.9 870.8 1855.8 870.3 1861.3 868.5C1866.8 866.7 1872.3 863.4 1877.8 861.6C1883.3 859.8 1890.4 858.4 1894.2 857.8C1898.0 857.2 1897.5 858.3 1900.8 857.8C1904.1 857.2 1909.0 855.7 1914.0 854.5C1919.0 853.3 1925.6 851.4 1930.5 850.4C1935.4 849.4 1939.5 849.1 1943.6 848.8C1947.7 848.5 1951.8 849.0 1955.1 848.4C1958.4 847.8 1960.7 845.6 1963.4 845.1C1966.2 844.6 1968.9 845.0 1971.6 845.1C1974.3 845.2 1976.8 845.7 1979.8 845.8C1982.8 845.9 1986.4 846.4 1989.7 845.8C1993.0 845.2 1995.1 844.2 1999.6 842.2C2004.1 840.2 2011.4 836.4 2016.5 833.5C2021.5 830.7 2025.1 828.2 2030.1 825.1C2035.1 822.0 2041.2 818.5 2046.3 815.0C2051.5 811.4 2056.3 807.1 2061.1 803.8C2065.9 800.5 2071.0 797.6 2075.3 795.2C2079.6 792.8 2083.9 790.8 2087.1 789.5C2090.2 788.3 2092.9 787.9 2094.1 787.6" fill="none" stroke="#fdd835" stroke-width="2" stroke-linejoin="round"/>
<polyline points="-6.7,856.0 1.1,876.8 8.8,883.2 16.6,888.7 24.4,879.3 32.1,876.0 39.9,870.2 47.6,866.1 55.4,842.2 63.1,841.4 70.9,840.3 78.6,842.2 86.4,856.2 94.1,862.0 101.9,865.0 109.6,866.9 117.4,860.3 125.2,850.5 132.9,872.7 140.7,812.6 148.4,796.2 156.2,793.7 163.9,822.2 171.7,811.0 179.4,813.9 187.2,813.4 194.9,811.8 202.7,815.1 210.4,815.1 218.2,830.7 226.0,839.3 233.7,834.8 241.5,825.8 249.2,834.0 257.0,837.3 264.7,867.8 272.5,870.2 280.2,873.2 288.0,884.2 295.7,892.9 303.5,892.4 311.2,885.5 319.0,887.5 326.8,876.8 334.5,850.1 342.3,853.4 350.0,843.1 357.8,851.3 365.5,845.5 373.3,840.6 381.0,845.5 388.8,851.3 396.5,841.4 404.3,831.0 412.0,831.0 419.8,843.1 427.6,850.1 435.3,830.7 443.1,838.1 450.8,867.3 458.6,866.6 466.3,871.0 474.1,874.8 481.8,865.3 489.6,848.8 497.3,849.7 505.1,855.7 512.8,855.1 520.6,857.9 528.4,854.6 536.1,831.0 543.9,844.7 551.6,842.2 559.4,841.4 567.1,848.8 574.9,865.0 582.6,878.1 590.4,840.6 598.1,848.8 605.9,858.4 613.6,862.3 621.4,868.3 629.1,855.1 636.9,859.5 644.7,862.8 652.4,871.0 660.2,860.7 667.9,843.1 675.7,840.9 683.4,837.3 691.2,835.3 698.9,823.3 706.7,813.4 714.4,819.1 722.2,841.4 729.9,847.1 737.7,845.5 745.5,861.1 753.2,868.2 761.0,858.6 768.7,845.5 776.5,829.0 784.2,835.9 792.0,848.8 799.7,834.3 807.5,831.0 815.2,832.3 823.0,841.4 830.7,850.7 838.5,852.9 846.3,858.6 854.0,839.7 861.8,835.9 869.5,832.3 877.3,822.4 885.0,802.3 892.8,812.2 900.5,788.7 908.3,781.3 916.0,779.3 923.8,777.2 931.5,766.1 939.3,771.7 947.1,763.5 954.8,795.3 962.6,786.5 970.3,783.3 978.1,801.9 985.8,793.6 993.6,797.4 1001.3,796.1 1009.1,795.3 1016.8,802.7 1024.6,791.5 1032.3,814.2 1040.1,796.9 1047.9,781.6 1055.6,794.1 1063.4,792.0 1071.1,811.2 1078.9,796.9 1086.6,789.5 1094.4,780.5 1102.1,784.2 1109.9,785.4 1117.6,774.4 1125.4,766.5 1133.1,761.5 1140.9,754.9 1148.7,743.4 1156.4,740.1 1164.2,741.8 1171.9,784.6 1179.7,780.0 1187.4,790.3 1195.2,782.9 1202.9,807.6 1210.7,833.1 1218.4,825.4 1226.2,824.9 1233.9,821.1 1241.7,848.4 1249.5,854.5 1257.2,856.7 1265.0,856.7 1272.7,845.5 1280.5,848.8 1288.2,847.1 1296.0,855.3 1303.7,849.6 1311.5,843.5 1319.2,838.9 1327.0,849.1 1334.7,843.5 1342.5,852.9 1350.3,852.9 1358.0,829.8 1365.8,806.8 1373.5,806.0 1381.3,816.7 1389.0,817.5 1396.8,801.9 1404.5,818.8 1412.3,829.8 1420.0,834.8 1427.8,839.7 1435.5,851.2 1443.3,863.3 1451.1,867.7 1458.8,866.5 1466.6,866.9 1474.3,860.6 1482.1,864.9 1489.8,850.1 1497.6,858.6 1505.3,853.4 1513.1,845.5 1520.8,852.1 1528.6,859.5 1536.3,860.3 1544.1,868.5 1551.9,876.7 1559.6,905.6 1567.4,921.2 1575.1,914.6 1582.9,913.3 1590.6,918.2 1598.4,895.7 1606.1,897.3 1613.9,892.4 1621.6,893.5 1629.4,894.5 1637.1,900.1 1644.9,903.1 1652.7,907.7 1660.4,880.9 1668.2,865.2 1675.9,855.3 1683.7,861.9 1691.4,869.3 1699.2,882.5 1706.9,890.7 1714.7,894.9 1722.4,894.9 1730.2,905.1 1737.9,912.1 1745.7,890.2 1753.5,890.7 1761.2,896.2 1769.0,880.0 1776.7,866.0 1784.5,859.5 1792.2,855.0 1800.0,863.6 1807.7,867.2 1815.5,866.5 1823.2,867.7 1831.0,862.8 1838.7,871.5 1846.5,867.7 1854.3,878.4 1862.0,859.5 1869.8,848.4 1877.5,825.4 1885.3,832.6 1893.0,846.3 1900.8,853.7 1908.5,840.5 1916.3,836.9 1924.0,836.4 1931.8,846.3 1939.5,849.1 1947.3,856.2 1955.0,867.7 1962.8,843.8 1970.6,841.9 1978.3,852.1 1986.1,839.7 1993.8,805.6 2001.6,799.1 2009.3,794.8 2017.1,789.5 2024.8,779.3 2032.6,774.7 2040.3,774.7 2048.1,781.3 2055.8,771.4 2063.6,767.1 2071.4,784.8 2079.1,804.1 2086.9,803.2 2094.6,803.2" fill="none" stroke="#7e57c2" stroke-width="2" stroke-linejoin="round"/>
<line x1="1737.9" y1="912.6" x2="2204" y2="790.0" stroke="#f23645" stroke-width="3.6" stroke-linecap="round"/>
</g>
<g clip-path="url(#cp3)">
<line x1="0" y1="990.9" x2="2184" y2="990.9" stroke="#787b86" stroke-width="2" stroke-dasharray="10 12" stroke-dashoffset="2"/>
<polyline points="0.0,1000.5 7.8,999.3 17.6,1003.4 86.8,991.7 101.5,994.3 117.1,1002.1 126.9,998.2 134.7,996.6 139.5,984.5 148.3,981.4 156.1,976.1 163.9,979.0 171.7,974.7 179.5,979.0 189.3,976.1 196.1,975.5 203.0,978.1 210.8,981.4 224.4,984.5 234.2,984.5 242.0,987.8 249.8,983.9 257.6,982.0 264.4,985.9 272.2,983.9 279.1,986.4 287.9,988.4 296.6,1002.8 304.4,1008.7 311.3,1009.3 320.1,1006.4 325.9,1007.9 333.7,1002.8 341.5,1002.8 349.3,1001.5 358.1,1004.0 364.9,1002.5 374.7,998.2 382.5,997.6 387.4,1001.5 396.2,995.0 404.0,995.0 411.8,997.0 419.6,994.6 427.4,997.6 443.9,987.8 444.0,987.8 450.7,992.3 458.5,990.4 466.3,998.2 479.0,997.0 490.7,996.6 497.6,995.8 506.4,1000.9 512.2,996.2 520.0,998.2 528.8,1001.1 535.6,997.6 543.8,991.3 552.2,995.2 566.9,996.2 580.5,994.6 589.9,987.8 598.1,994.3 605.9,990.4 613.7,991.9 622.5,975.7 630.3,971.8 643.0,983.3 652.7,988.2 662.5,987.2 672.2,985.9 684.0,984.1 692.7,985.9 705.4,979.0 715.2,984.5 722.0,986.4 728.8,985.9 737.6,982.9 746.4,995.0 754.2,992.7 762.0,987.8 767.9,987.8 775.7,989.8 783.5,993.7 792.3,1001.5 800.1,996.6 814.7,997.0 830.3,1006.4 840.1,1011.2 853.7,1018.1 862.5,1022.9 877.2,1013.2 885.9,1001.5 886.9,1001.5 890.0,1001.5 891.7,1001.5 899.5,989.8 907.3,984.9 916.1,980.6 923.9,983.5 931.7,981.0 939.5,982.9 947.9,970.8 954.2,978.6 962.0,974.2 969.8,973.2 977.6,988.4 986.4,986.3 994.2,985.9 1002.0,982.9 1009.8,982.3 1016.6,983.7 1024.4,982.7 1032.2,987.2 1040.0,989.4 1047.8,985.9 1055.6,991.1 1063.5,991.7 1072.2,996.6 1079.1,993.7 1086.9,994.6 1094.7,991.7 1102.5,995.0 1109.3,993.5 1117.1,989.2 1125.5,985.5 1133.7,972.4 1141.5,970.2 1148.3,970.2 1156.2,966.0 1164.0,973.2 1171.8,978.6 1180.5,979.6 1188.4,979.2 1196.2,977.5 1204.0,983.9 1209.8,987.6 1219.6,988.4 1227.4,988.0 1234.2,988.0 1242.0,993.7 1250.8,991.1 1258.6,988.8 1266.4,988.8 1274.2,991.7 1281.1,994.3 1287.9,994.3 1295.7,998.2 1303.5,993.7 1311.3,998.2 1319.1,994.8 1327.8,992.3 1330.0,991.7 1341.5,990.4 1350.2,993.7 1358.1,982.5 1365.9,968.5 1373.7,967.3 1381.5,966.0 1389.9,968.9 1396.1,958.9 1403.9,963.6 1411.7,965.8 1419.5,968.3 1427.3,970.2 1436.1,972.2 1443.9,977.1 1451.7,975.7 1458.6,982.5 1466.4,985.1 1474.2,983.9 1482.0,980.6 1489.8,979.6 1497.6,979.2 1505.4,979.2 1514.2,987.8 1520.0,997.6 1527.8,1000.9 1535.7,1002.8 1543.5,1001.1 1552.2,1012.6 1560.0,1016.7 1567.9,1016.9 1575.7,1009.3 1582.5,1012.2 1589.3,1012.2 1598.1,1007.7 1606.9,1003.4 1613.7,1002.1 1621.5,1002.1 1630.3,1001.9 1637.1,1004.4 1644.0,1008.7 1651.8,1010.6 1659.6,1003.0 1667.4,1001.9 1675.2,1002.1 1683.0,1002.6 1690.8,1002.8 1698.6,1004.8 1705.4,1004.8 1714.2,999.5 1722.0,994.6 1729.8,995.8 1737.6,994.3 1745.4,987.8 1753.3,988.6 1761.1,991.1 1768.8,987.4 1770.0,987.0 1776.6,986.3 1784.4,986.3 1792.2,982.5 1800.0,981.6 1807.8,977.7 1816.6,983.3 1824.4,986.1 1831.2,984.1 1839.0,982.7 1845.9,980.2 1854.7,977.7 1862.5,972.2 1870.3,966.9 1878.1,963.0 1885.9,959.3 1894.3,956.4 1900.1,962.6 1907.9,965.0 1915.7,959.9 1923.9,970.6 1931.7,975.7 1939.5,980.6 1948.3,983.5 1955.2,983.5 1962.0,980.8 1969.8,981.8 1978.2,986.8 1986.0,984.5 1994.2,975.1 2002.0,972.4 2009.8,967.9 2017.6,968.3 2024.4,967.5 2032.2,970.6 2040.1,973.8 2047.9,970.8 2055.7,967.9 2063.5,966.5 2071.3,969.9 2080.1,971.6 2085.9,968.7 2094.7,966.5" fill="none" stroke="#43a047" stroke-width="2" stroke-linejoin="round"/>
<rect x="17.8" y="987" width="68.2" height="37.7" fill="#fff"/>
<path d="M22.0 991.1H45.8V1020.8H34.1V1002.7H22.0Z" fill="#131313"/>
<circle cx="55.9" cy="997.0" r="5.95" fill="#131313"/>
<path d="M68.3 991.1H81.7L70.1 1020.8H56.1Z" fill="#131313"/>
</g>
<g clip-path="url(#cpax)" opacity="0.999">
<text x="2202" y="19.8" font-size="23.5" fill="#131722" stroke="#131722" stroke-width="0.45" textLength="84" lengthAdjust="spacingAndGlyphs">0,34000</text>
<text x="2202" y="123.1" font-size="23.5" fill="#131722" stroke="#131722" stroke-width="0.45" textLength="84" lengthAdjust="spacingAndGlyphs">0,32000</text>
<text x="2202" y="226.4" font-size="23.5" fill="#131722" stroke="#131722" stroke-width="0.45" textLength="84" lengthAdjust="spacingAndGlyphs">0,30000</text>
<text x="2202" y="329.7" font-size="23.5" fill="#131722" stroke="#131722" stroke-width="0.45" textLength="84" lengthAdjust="spacingAndGlyphs">0,28000</text>
<text x="2202" y="433.0" font-size="23.5" fill="#131722" stroke="#131722" stroke-width="0.45" textLength="84" lengthAdjust="spacingAndGlyphs">0,26000</text>
<text x="2202" y="536.3" font-size="23.5" fill="#131722" stroke="#131722" stroke-width="0.45" textLength="84" lengthAdjust="spacingAndGlyphs">0,24000</text>
<text x="2202" y="639.6" font-size="23.5" fill="#131722" stroke="#131722" stroke-width="0.45" textLength="84" lengthAdjust="spacingAndGlyphs">0,22000</text>
<text x="2202" y="742.9" font-size="23.5" fill="#131722" stroke="#131722" stroke-width="0.45" textLength="84" lengthAdjust="spacingAndGlyphs">0,20000</text>
<path d="M2186 13.1H2294.5Q2298 13.1 2298 16.6V43.2Q2298 46.7 2294.5 46.7H2186Z" fill="#000"/><text x="2202" y="36.9" font-size="23.5" fill="#fff" stroke="#fff" stroke-width="0.45" textLength="84" lengthAdjust="spacingAndGlyphs">0,33668</text>
<path d="M2186 174.4H2294.5Q2298 174.4 2298 177.9V204.5Q2298 208.0 2294.5 208.0H2186Z" fill="#000"/><text x="2202" y="198.2" font-size="23.5" fill="#fff" stroke="#fff" stroke-width="0.45" textLength="84" lengthAdjust="spacingAndGlyphs">0,30545</text>
<path d="M2186 297.4H2294.5Q2298 297.4 2298 300.9V327.5Q2298 331.0 2294.5 331.0H2186Z" fill="#000"/><text x="2202" y="321.2" font-size="23.5" fill="#fff" stroke="#fff" stroke-width="0.45" textLength="84" lengthAdjust="spacingAndGlyphs">0,28164</text>
<path d="M2186 459.5H2294.5Q2298 459.5 2298 463.0V489.6Q2298 493.1 2294.5 493.1H2186Z" fill="#000"/><text x="2202" y="483.3" font-size="23.5" fill="#fff" stroke="#fff" stroke-width="0.45" textLength="84" lengthAdjust="spacingAndGlyphs">0,25025</text>
<path d="M2186 583.1H2294.5Q2298 583.1 2298 586.6V613.2Q2298 616.7 2294.5 616.7H2186Z" fill="#000"/><text x="2202" y="606.9" font-size="23.5" fill="#fff" stroke="#fff" stroke-width="0.45" textLength="84" lengthAdjust="spacingAndGlyphs">0,22632</text>
<path d="M2186 659.4H2294.5Q2298 659.4 2298 662.9V689.5Q2298 693.0 2294.5 693.0H2186Z" fill="#000"/><text x="2202" y="683.2" font-size="23.5" fill="#fff" stroke="#fff" stroke-width="0.45" textLength="84" lengthAdjust="spacingAndGlyphs">0,21154</text>
<path d="M2186 723.8H2294.5Q2298 723.8 2298 727.3V753.9Q2298 757.4 2294.5 757.4H2186Z" fill="#000"/><text x="2202" y="747.6" font-size="23.5" fill="#fff" stroke="#fff" stroke-width="0.45" textLength="84" lengthAdjust="spacingAndGlyphs">0,19909</text>
<path d="M2186 431.0H2294.5Q2298 431.0 2298 434.5V461.1Q2298 464.6 2294.5 464.6H2186Z" fill="#089981"/><text x="2202" y="454.8" font-size="23.5" fill="#fff" stroke="#fff" stroke-width="0.45" textLength="84" lengthAdjust="spacingAndGlyphs">0,25577</text>
</g>
<g opacity="0.999">
<text x="2202" y="782.0" font-size="23.5" fill="#131722" stroke="#131722" stroke-width="0.45" textLength="58" lengthAdjust="spacingAndGlyphs">75,00</text>
<text x="2202" y="849.9" font-size="23.5" fill="#131722" stroke="#131722" stroke-width="0.45" textLength="58" lengthAdjust="spacingAndGlyphs">50,00</text>
<text x="2202" y="918.2" font-size="23.5" fill="#131722" stroke="#131722" stroke-width="0.45" textLength="58" lengthAdjust="spacingAndGlyphs">25,00</text>
<text x="2202" y="997.9" font-size="23.5" fill="#131722" stroke="#131722" stroke-width="0.45" textLength="46" lengthAdjust="spacingAndGlyphs">0,00</text>
</g>
</svg></body></html>
